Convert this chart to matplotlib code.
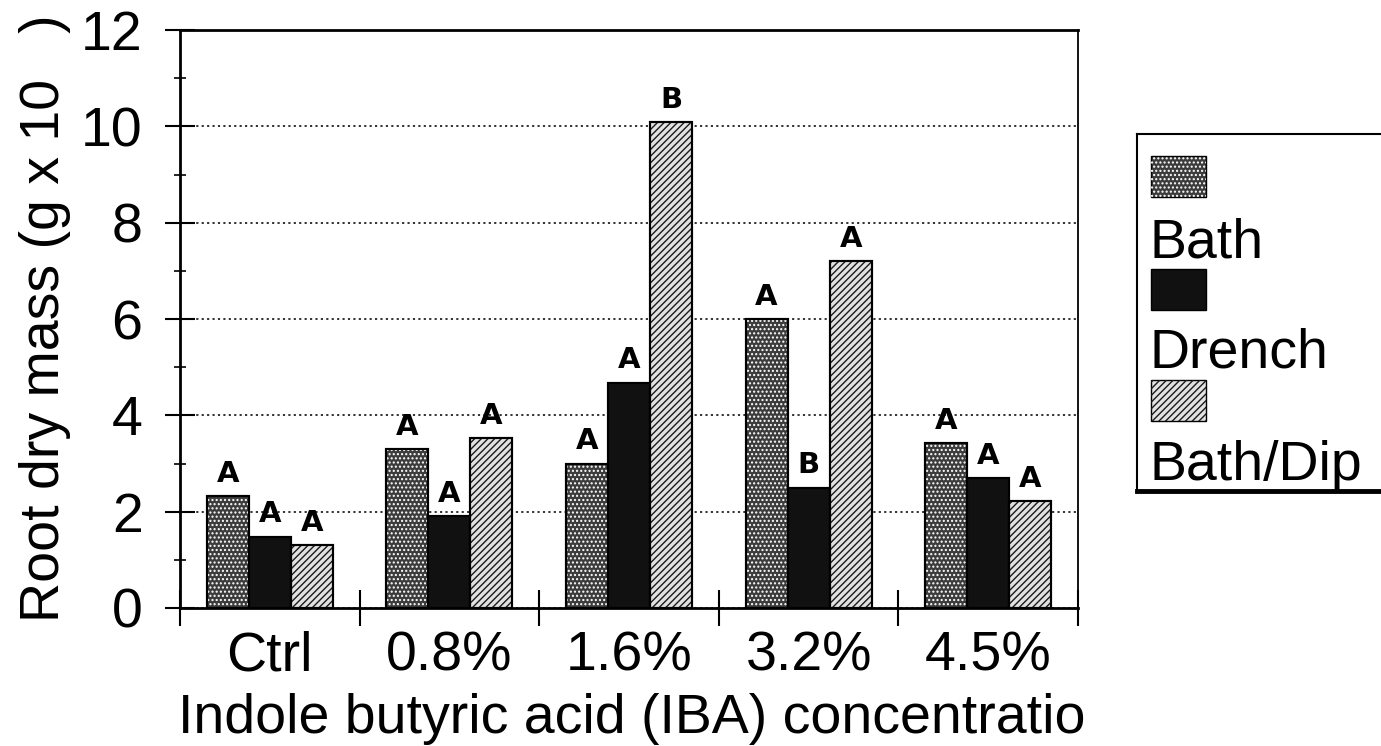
import matplotlib
matplotlib.use("Agg")
import matplotlib.pyplot as plt
from matplotlib.patches import Rectangle
from matplotlib.lines import Line2D
import numpy as np

plt.rcParams['font.family'] = ['Liberation Sans', 'DejaVu Sans']
plt.rcParams['hatch.linewidth'] = 1.0

# data
categories = ["Ctrl", "0.8%", "1.6%", "3.2%", "4.5%"]
series_names = ["Bath", "Drench", "Bath/Dip"]
bath = [2.32, 3.30, 3.00, 6.00, 3.42]
drench = [1.48, 1.90, 4.68, 2.50, 2.70]
bath_dip = [1.30, 3.52, 10.08, 7.20, 2.22]
bath_letters = ["A", "A", "A", "A", "A"]
drench_letters = ["A", "A", "A", "B", "A"]
bath_dip_letters = ["A", "A", "B", "A", "A"]

W, H = 1381, 746
FS = 40


def fx(x):
    return x / W


def fy(y):
    return 1 - y / H


# bar styles: (face, hatch, hatch colour)
styles = [
    ('#3c3c3c', '....', 'white'),
    ('#111111', None, None),
    ('#e2e2e2', '/////', '#1a1a1a'),
]


def draw_bar(target, *args, face, hatch, hcolor, **kw):
    # base fill + hatch overlay + outline
    target.bar(*args, color=face, edgecolor='black', linewidth=1.5, zorder=2, **kw)
    if hatch:
        target.bar(*args, fill=False, hatch=hatch, edgecolor=hcolor, linewidth=0, zorder=2.1, **kw)
    target.bar(*args, fill=False, edgecolor='black', linewidth=1.5, zorder=2.2, **kw)


fig = plt.figure(figsize=(W / 100, H / 100), dpi=100)
ax = fig.add_axes([fx(180), fy(608), (1078 - 180) / W, (608 - 30) / H])

x = np.arange(len(categories))
width = 0.234
all_values = [bath, drench, bath_dip]
all_letters = [bath_letters, drench_letters, bath_dip_letters]

for i, (vals, letters) in enumerate(zip(all_values, all_letters)):
    face, hatch, hcolor = styles[i]
    pos = x + (i - 1) * width
    draw_bar(ax, pos, vals, width, face=face, hatch=hatch, hcolor=hcolor)
    for xp, v, lt in zip(pos, vals, letters):
        ax.annotate(lt, (xp, v), xytext=(0, 6), textcoords='offset points',
                    ha='center', va='bottom', fontsize=21, fontweight='bold',
                    family=['DejaVu Sans'])

ax.set_xlim(-0.5, len(categories) - 0.5)
ax.set_ylim(0, 12)

# gridlines
ax.set_yticks(np.arange(0, 13, 2))
ax.set_yticks(np.arange(1, 12, 2), minor=True)
ax.yaxis.grid(True, which='major', linestyle=(0, (1.2, 1.8)), color='#222222', linewidth=1.3, zorder=0)
ax.set_axisbelow(True)

ax.tick_params(axis='y', which='major', direction='inout', length=22, width=1.5,
               labelsize=FS, pad=16)
ax.tick_params(axis='y', which='minor', direction='inout', length=9, width=1.2)

# category boundaries as major ticks, labels on minor ticks
ax.set_xticks(np.arange(-0.5, len(categories), 1.0))
ax.set_xticklabels([])
ax.set_xticks(x, minor=True)
ax.set_xticklabels(categories, minor=True)
ax.tick_params(axis='x', which='major', direction='inout', length=26, width=1.5)
ax.tick_params(axis='x', which='minor', length=0, labelsize=FS, pad=16)

for side in ['left', 'bottom', 'top']:
    ax.spines[side].set_linewidth(2)
ax.spines['right'].set_linewidth(1.3)

# axis titles
fig.text(fx(59), fy(622), "Root dry mass (g x 10   )", rotation=90, rotation_mode='anchor',
         ha='left', va='baseline', fontsize=FS)
fig.text(fx(178), fy(733), "Indole butyric acid (IBA) concentratio", ha='left', va='baseline',
         fontsize=FS)

# legend box, drawn by hand (patch above, label below)
fig.add_artist(Line2D([fx(1137), fx(1137)], [fy(134), fy(492)], color='black', lw=1.5))
fig.add_artist(Line2D([fx(1137), fx(1385)], [fy(134), fy(134)], color='black', lw=1.5))
fig.add_artist(Line2D([fx(1137), fx(1385)], [fy(491), fy(491)], color='black', lw=3.5))

patch_tops = [156, 269, 380]
label_bases = [257, 367, 480]
for i, name in enumerate(series_names):
    face, hatch, hcolor = styles[i]
    r = Rectangle((fx(1151), fy(patch_tops[i] + 41)), 55 / W, 41 / H, transform=fig.transFigure,
                  facecolor=face, edgecolor='black', linewidth=1)
    fig.add_artist(r)
    if hatch:
        fig.add_artist(Rectangle((fx(1151), fy(patch_tops[i] + 41)), 55 / W, 41 / H,
                                 transform=fig.transFigure, fill=False, hatch=hatch,
                                 edgecolor=hcolor, linewidth=0))
    fig.text(fx(1150), fy(label_bases[i]), name, ha='left', va='baseline', fontsize=FS)

fig.savefig("out.png", dpi=100)
